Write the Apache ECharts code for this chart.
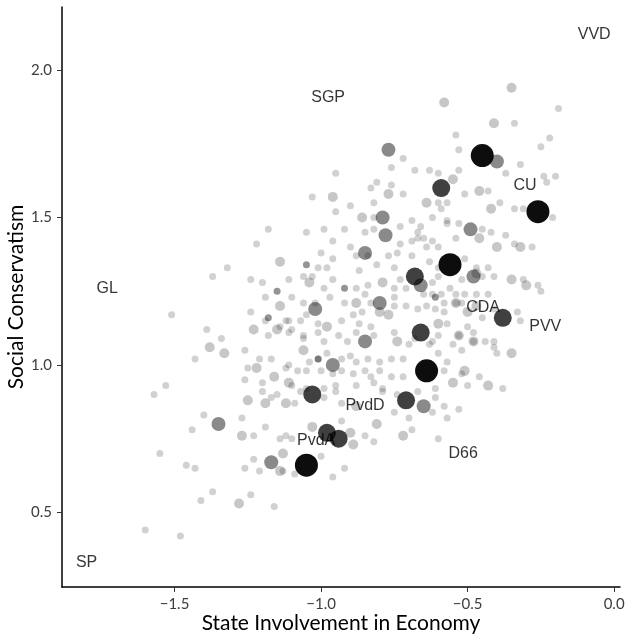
<!DOCTYPE html>
<html>
<head>
<meta charset="utf-8">
<script src="https://cdn.jsdelivr.net/npm/echarts@6/dist/echarts.min.js"></script>
<style>
  html, body { margin: 0; padding: 0; background: #fff; }
  #chart { width: 629px; height: 636px; }
</style>
</head>
<body>
<div id="chart"></div>
<script>
// tick values
const xTicks = [-1.5, -1.0, -0.5, 0.0]
const yTicks = [0.5, 1.0, 1.5, 2.0]

// party labels
const partyNames = ['VVD', 'SGP', 'CU', 'GL', 'CDA', 'PVV', 'PvdD', 'PvdA', 'D66', 'SP']
const partyLabelX = [-0.068, -0.976, -0.304, -1.73, -0.447, -0.235, -0.85, -1.017, -0.515, -1.80]
const partyLabelY = [2.12, 1.908, 1.61, 1.26, 1.193, 1.129, 0.861, 0.742, 0.698, 0.329]

// respondents, by weight class (x = economy, y = conservatism)
const smallPts = [
  [-1.60,0.44],[-1.48,0.42],[-1.57,0.90],[-1.53,0.93],[-1.55,0.70],[-1.51,1.17],[-1.46,0.66],[-1.43,0.65],[-1.44,0.78],[-1.41,0.54],
  [-1.40,0.83],[-1.37,0.57],[-1.39,1.12],[-1.43,1.02],[-1.37,1.30],[-1.32,1.33],[-1.34,1.09],[-1.26,1.05],[-1.24,1.29],[-1.24,1.18],
  [-1.27,0.82],[-1.19,0.79],[-1.23,0.76],[-1.22,1.41],[-1.18,1.46],[-1.20,1.28],[-1.19,1.23],[-1.10,1.23],[-1.06,1.21],
  [-1.19,1.15],[-1.14,1.13],[-1.11,1.15],[-1.11,1.11],[-1.18,1.10],[-1.21,1.02],[-1.17,1.02],[-1.25,0.99],[-1.12,0.99],[-1.11,1.00],
  [-1.26,0.95],[-1.20,0.94],[-1.20,0.91],[-1.17,0.89],[-1.15,0.90],[-1.23,0.68],[-1.26,0.65],[-1.21,0.64],[-1.24,0.56],[-1.16,0.52],
  [-1.13,0.64],[-1.09,0.63],[-1.14,0.75],[-1.12,0.76],[-1.07,0.91],[-1.10,0.93],[-1.05,0.92],[-1.08,0.98],[-1.06,1.10],[-1.10,1.12],
  [-1.01,1.11],[-1.04,1.01],[-1.01,1.02],[-1.03,1.57],[-1.05,1.45],[-0.99,1.46],[-0.92,1.46],[-0.85,1.45],[-0.82,1.46],[-0.95,1.65],
  [-0.76,1.67],[-0.72,1.70],[-0.68,1.66],[-0.63,1.66],[-0.60,1.65],[-0.81,1.62],[-0.83,1.60],[-0.76,1.61],[-0.72,1.58],[-0.90,1.54],
  [-0.82,1.55],[-0.95,1.52],[-0.82,1.50],[-0.69,1.49],[-0.66,1.47],[-0.73,1.47],[-0.62,1.50],[-0.59,1.53],[-0.57,1.49],[-0.67,1.45],
  [-0.60,1.55],[-0.57,1.55],[-0.54,1.78],[-0.53,1.73],[-0.53,1.66],[-0.51,1.58],[-0.43,1.59],[-0.39,1.55],[-0.34,1.53],[-0.31,1.53],
  [-0.34,1.82],[-0.32,1.68],[-0.37,1.65],[-0.25,1.74],[-0.22,1.77],[-0.24,1.64],[-0.23,1.62],[-0.20,1.64],[-0.19,1.87],[-0.21,1.50],
  [-0.45,1.46],[-0.42,1.45],[-0.37,1.44],[-0.28,1.40],[-0.34,1.41],[-0.53,1.48],[-0.57,1.48],
  [-0.73,1.41],[-0.69,1.42],[-0.67,1.43],[-0.65,1.43],[-0.62,1.42],[-0.60,1.40],[-0.54,1.43],[-0.96,1.42],[-0.90,1.40],[-1.00,1.38],
  [-0.96,1.36],[-0.88,1.37],[-0.84,1.37],[-0.77,1.37],[-0.74,1.38],[-0.69,1.37],[-0.64,1.40],
  [-1.01,1.33],[-0.98,1.33],[-0.87,1.32],[-0.81,1.34],[-0.75,1.33],[-0.63,1.35],[-0.60,1.33],[-0.60,1.30],[-0.62,1.28],
  [-0.51,1.36],[-0.47,1.33],[-0.43,1.33],[-0.41,1.30],[-0.45,1.30],[-0.52,1.29],[-0.31,1.29],[-0.26,1.27],[-0.25,1.25],
  [-1.11,1.29],[-1.03,1.30],[-0.99,1.26],[-0.96,1.29],[-0.88,1.26],[-0.84,1.27],[-0.85,1.24],[-0.73,1.29],[-0.75,1.26],[-0.71,1.26],
  [-0.65,1.24],[-0.56,1.26],[-0.59,1.24],[-0.62,1.24],[-0.54,1.24],[-0.51,1.24],[-0.47,1.24],[-0.43,1.24],[-1.06,1.30],
  [-1.02,1.21],[-0.97,1.23],[-0.92,1.21],[-0.83,1.21],[-0.75,1.23],[-0.75,1.20],[-0.71,1.20],[-0.67,1.19],[-0.64,1.20],[-0.61,1.19],
  [-0.54,1.21],[-0.58,1.21],[-0.52,1.21],[-0.45,1.16],[-0.41,1.19],[-0.33,1.18],[-0.32,1.15],[-0.58,1.18],[-0.57,1.14],[-0.50,1.13],
  [-0.44,1.08],[-0.41,1.06],[-0.40,1.04],[-0.52,1.05],[-0.55,1.07],[-0.62,1.08],[-0.57,1.01],[-0.58,0.98],[-0.46,0.96],[-0.38,0.92],
  [-0.50,0.93],[-0.52,0.97],
  [-1.12,1.15],[-1.07,1.15],[-1.05,1.17],[-1.01,1.14],[-0.93,1.15],[-0.89,1.17],[-0.87,1.14],[-0.86,1.18],[-0.83,1.13],[-0.88,1.11],
  [-0.82,1.10],[-0.75,1.11],[-0.70,1.07],[-0.68,1.09],[-0.63,1.07],[-0.60,1.10],[-1.06,1.09],[-0.99,1.08],[-0.94,1.10],[-0.91,1.08],
  [-0.93,1.02],[-0.98,1.04],[-0.90,1.03],[-0.88,1.01],[-0.84,1.02],[-0.80,1.01],[-0.76,1.02],[-0.72,1.02],
  [-1.05,0.98],[-1.00,0.98],[-0.96,0.97],[-0.93,0.98],[-0.89,0.97],[-0.85,0.98],[-0.83,0.96],[-0.80,0.98],[-0.76,0.96],[-0.72,0.96],
  [-0.99,0.92],[-0.95,0.93],[-0.88,0.93],[-0.82,0.94],[-0.79,0.92],[-0.61,0.92],[-0.99,0.89],[-1.09,0.87],[-0.95,0.91],[-0.93,0.87],
  [-0.79,0.91],[-0.74,0.90],[-0.67,0.91],[-0.61,0.89],[-0.75,0.84],[-0.70,0.82],[-0.62,0.84],[-0.93,0.81],[-0.85,0.76],[-0.69,0.78],
  [-0.60,0.75],[-0.82,0.74],[-1.10,0.75],[-1.00,0.69],[-0.92,0.65],[-0.96,0.62],[-0.53,0.85],[-0.58,0.86],[-0.57,0.82],[-0.48,1.08],
  [-0.60,1.04],[-0.53,1.10],[-0.48,1.11],[-0.41,1.08]
]

const smallDarkPts = [
  [-1.15,1.25],[-1.05,1.34],[-0.92,1.26],[-0.61,1.23],[-1.01,1.02],[-1.18,1.16]
]

const midPts = [
  [-1.38,1.06],[-1.33,1.04],[-1.27,0.76],[-1.28,0.53],[-1.14,1.20],[-1.14,1.35],[-1.15,1.12],[-1.23,1.12],[-1.22,0.99],[-1.16,0.96],
  [-1.25,0.88],[-1.19,0.87],[-1.12,0.87],[-1.13,0.70],[-1.14,0.64],[-1.11,0.94],[-1.03,0.79],[-1.06,1.05],[-1.04,1.28],[-0.98,1.13],
  [-0.88,1.21],[-0.80,1.18],[-0.77,1.17],[-0.79,1.28],[-0.74,1.08],[-0.60,1.14],[-0.96,1.57],[-0.77,1.58],[-0.86,1.50],
  [-0.64,1.55],[-0.55,1.63],[-0.46,1.59],[-0.42,1.53],[-0.46,1.43],[-0.40,1.40],[-0.32,1.40],[-0.35,1.29],[-0.30,1.27],[-0.47,1.20],
  [-0.50,1.18],[-0.53,1.10],[-0.48,1.08],[-0.35,1.04],[-0.55,0.94],[-0.51,0.98],[-0.43,0.93],[-0.88,0.86],[-0.90,0.77],[-0.81,0.80],
  [-0.72,0.76],[-0.89,0.73],[-0.58,1.89],[-0.41,1.82],[-0.35,1.94],[-0.54,1.21],[-0.47,1.31]
]

const grayPts = [
  [-1.35,0.80],[-0.77,1.73],[-1.02,1.19],[-0.85,1.08],[-0.80,1.21],[-0.79,1.50],[-0.78,1.44],[-0.49,1.46],[-0.48,1.30],[-0.66,1.27],
  [-0.40,1.69],[-0.65,0.86],[-0.96,1.00],[-0.85,1.38],[-1.17,0.67]
]

const darkPts = [
  [-0.59,1.60],[-0.68,1.30],[-0.38,1.16],[-0.71,0.88],[-1.03,0.90],[-0.98,0.77],[-0.94,0.75],[-0.66,1.11]
]

const partyPts = [
  [-0.45,1.71],[-0.26,1.52],[-0.56,1.34],[-0.64,0.98],[-1.05,0.66]
]

const chart = echarts.init(document.getElementById('chart'))

const fmt = (v) => v.toFixed(1).replace('-', '\u2212')

function dots(data, size, opacity) {
  return {
    type: 'scatter',
    data,
    symbolSize: size,
    itemStyle: { color: '#000', opacity },
    emphasis: { disabled: true },
    silent: true,
  }
}

const option = {
  animation: false,
  grid: { left: 62, right: 9, top: 7, bottom: 49, containLabel: false, outerBoundsMode: 'none' },
  xAxis: {
    type: 'value',
    min: -1.884,
    max: 0.02,
    name: 'State Involvement in Economy',
    nameLocation: 'middle',
    nameGap: 26,
    nameMoveOverlap: false,
    nameTextStyle: { color: '#000', fontSize: 21, fontFamily: 'Lato' },
    axisLine: { onZero: false, lineStyle: { color: '#000', width: 1.5 } },
    axisTick: { show: true, length: 5, lineStyle: { color: '#333' }, customValues: xTicks },
    axisLabel: { color: '#3d3d3d', fontSize: 15, fontFamily: 'Lato', margin: 10, customValues: xTicks, formatter: fmt },
    splitLine: { show: false },
  },
  yAxis: {
    type: 'value',
    min: 0.247,
    max: 2.214,
    name: 'Social Conservatism',
    nameLocation: 'middle',
    nameGap: 35,
    nameMoveOverlap: false,
    nameTextStyle: { color: '#000', fontSize: 21, fontFamily: 'Lato' },
    axisLine: { show: true, onZero: false, lineStyle: { color: '#000', width: 1.5 } },
    axisTick: { show: true, length: 5, lineStyle: { color: '#333' }, customValues: yTicks },
    axisLabel: { color: '#3d3d3d', fontSize: 15, fontFamily: 'Lato', margin: 10, customValues: yTicks, formatter: fmt },
    splitLine: { show: false },
  },
  series: [
    dots(smallPts, 7, 0.18),
    dots(smallDarkPts, 7, 0.42),
    dots(midPts, 10, 0.22),
    dots(grayPts, 14, 0.46),
    dots(darkPts, 18, 0.75),
    dots(partyPts, 23, 0.95),
    {
      type: 'scatter',
      data: partyNames.map((n, i) => ({ name: n, value: [partyLabelX[i], partyLabelY[i]] })),
      symbolSize: 1,
      itemStyle: { color: 'transparent' },
      silent: true,
      z: 10,
      label: {
        show: true,
        position: 'inside',
        formatter: (p) => p.name,
        color: '#000',
        fontSize: 16,
        fontFamily: "'Liberation Sans', Arial, sans-serif",
      },
    },
  ],
}

chart.setOption(option)
</script>
</body>
</html>
